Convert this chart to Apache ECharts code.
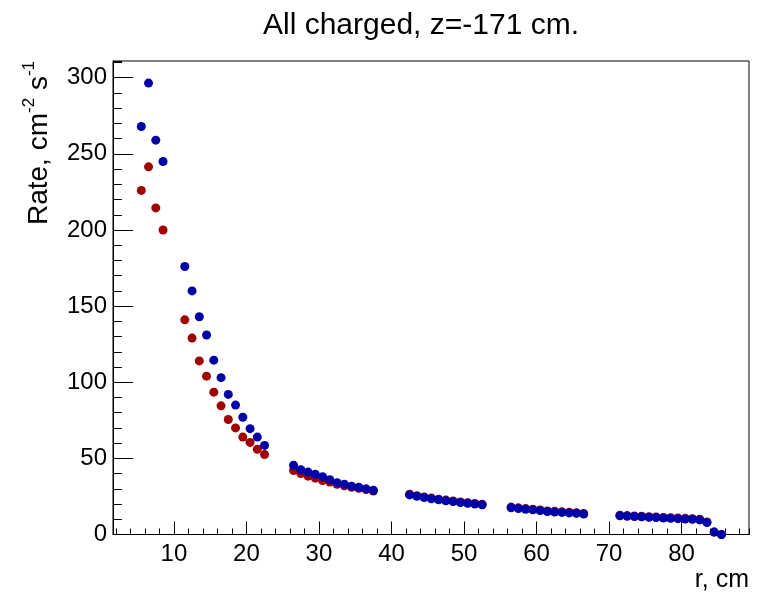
<!DOCTYPE html>
<html><head><meta charset="utf-8">
<script src="https://cdn.jsdelivr.net/npm/echarts@6/dist/echarts.min.js"></script>
<style>html,body{margin:0;padding:0;background:#fff}#c{width:757px;height:596px}</style>
</head><body><div id="c"></div>
<script>
// ---- data ----
const rValues = [5.5, 6.5, 7.5, 8.5,
  11.5, 12.5, 13.5, 14.5, 15.5, 16.5, 17.5, 18.5, 19.5, 20.5, 21.5, 22.5,
  26.5, 27.5, 28.5, 29.5, 30.5, 31.5, 32.5, 33.5, 34.5, 35.5, 36.5, 37.5,
  42.5, 43.5, 44.5, 45.5, 46.5, 47.5, 48.5, 49.5, 50.5, 51.5, 52.5,
  56.5, 57.5, 58.5, 59.5, 60.5, 61.5, 62.5, 63.5, 64.5, 65.5, 66.5,
  71.5, 72.5, 73.5, 74.5, 75.5, 76.5, 77.5, 78.5, 79.5, 80.5, 81.5, 82.5, 83.5, 84.5, 85.5];
const rateBlue = [268, 296.5, 259, 245,
  176, 160, 143, 131, 114.5, 103, 92, 85, 77, 69.5, 64, 58.5,
  45.5, 42.5, 41, 39.5, 38, 36, 34, 33, 31.7, 31, 30, 29,
  26, 25.1, 24.3, 23.5, 22.8, 22.2, 21.6, 21, 20.5, 20, 19.5,
  17.6, 17.1, 16.6, 16.2, 15.7, 15.1, 14.8, 14.5, 14.2, 13.9, 13.4,
  12.3, 12, 11.8, 11.6, 11.3, 11.1, 10.8, 10.6, 10.4, 10.2, 10, 9.6, 7.8, 1.6, 0];
const rateRed = [226, 241.5, 214.5, 200,
  141, 129, 114, 104, 93.5, 84.5, 75.5, 70, 64, 60.5, 56, 52.5,
  42, 40, 38.3, 37, 35.5, 34.5, 33, 32, 31, 30.3, 29.5, 28.6,
  26.4, 25.5, 24.7, 23.9, 23.2, 22.6, 22, 21.4, 20.9, 20.4, 19.9,
  18, 17.5, 17, 16.6, 16.1, 15.5, 15.2, 14.9, 14.6, 14.3, 13.8,
  12.7, 12.4, 12.2, 12, 11.7, 11.5, 11.2, 11, 10.8, 10.6, 10.4, 10, 8.2, 1.6, 0];
const xTickLabels = [10, 20, 30, 40, 50, 60, 70, 80];
const yTickLabels = [0, 50, 100, 150, 200, 250, 300];

const FONT = "'Liberation Sans', Arial, Helvetica, sans-serif";
const X_MIN = 1.6, X_MAX = 89.3, Y_MIN = 0, Y_MAX = 311;
const gridPos = {left: 113, right: 8, top: 61, bottom: 61.5};

const chart = echarts.init(document.getElementById('c'), null, {renderer: 'canvas'});
chart.setOption({
  animation: false,
  backgroundColor: '#fff',
  title: {
    text: 'All charged, z=-171 cm.',
    left: 416, top: 6, textAlign: 'center',
    textStyle: {fontFamily: FONT, fontSize: 30, fontWeight: 'normal', color: '#000'}
  },
  grid: [
    Object.assign({show: true, borderColor: '#000', borderWidth: 1, backgroundColor: 'transparent'}, gridPos),
    Object.assign({show: false}, gridPos)
  ],
  xAxis: [
    {
      type: 'value', gridIndex: 0, min: X_MIN, max: X_MAX, minInterval: 10, maxInterval: 10,
      axisLine: {show: true, lineStyle: {color: '#000', width: 1}},
      axisTick: {show: true, inside: true, length: 13, lineStyle: {color: '#000', width: 1}},
      splitLine: {show: false},
      axisLabel: {
        color: '#000', fontFamily: FONT, fontSize: 24, margin: 8,
        showMinLabel: false, showMaxLabel: false,
        formatter: v => xTickLabels.indexOf(Math.round(v * 1000) / 1000) >= 0 ? String(v) : ''
      },
      name: 'r, cm', nameLocation: 'end', nameGap: 0,
      nameTextStyle: {color: '#000', fontFamily: FONT, fontSize: 25, align: 'right', verticalAlign: 'top', padding: [33, 0, 0, 0]}
    },
    {
      type: 'value', gridIndex: 1, min: X_MIN, max: X_MAX, minInterval: 2, maxInterval: 2,
      axisLine: {show: false},
      axisTick: {show: true, inside: true, length: 6, lineStyle: {color: '#000', width: 1}},
      splitLine: {show: false}, axisLabel: {show: false}
    }
  ],
  yAxis: [
    {
      type: 'value', gridIndex: 0, min: Y_MIN, max: Y_MAX, interval: 50,
      axisLine: {show: true, lineStyle: {color: '#000', width: 1}},
      axisTick: {show: true, inside: true, length: 20, lineStyle: {color: '#000', width: 1}},
      splitLine: {show: false},
      axisLabel: {
        color: '#000', fontFamily: FONT, fontSize: 24, margin: 6,
        showMaxLabel: false,
        formatter: v => yTickLabels.indexOf(v) >= 0 ? String(v) : ''
      },
      name: '{a|Rate, cm}{s|-2}{a| s}{s|-1}',
      nameLocation: 'end', nameRotate: 90, nameGap: 0,
      nameTextStyle: {
        align: 'right', verticalAlign: 'bottom', padding: [0, 0, 60, 0],
        rich: {
          a: {fontFamily: FONT, fontSize: 28, color: '#000', verticalAlign: 'bottom', lineHeight: 32},
          s: {fontFamily: FONT, fontSize: 17, color: '#000', verticalAlign: 'top', lineHeight: 32}
        }
      }
    },
    {
      type: 'value', gridIndex: 1, min: Y_MIN, max: Y_MAX, interval: 10,
      axisLine: {show: false},
      axisTick: {show: true, inside: true, length: 9, lineStyle: {color: '#000', width: 1}},
      splitLine: {show: false}, axisLabel: {show: false}
    }
  ],
  series: [
    {
      type: 'scatter', name: 'red', xAxisIndex: 0, yAxisIndex: 0, clip: false,
      symbol: 'circle', symbolSize: 9, itemStyle: {color: '#a00000', opacity: 1},
      data: rValues.map((r, i) => [r, rateRed[i]])
    },
    {
      type: 'scatter', name: 'blue', xAxisIndex: 0, yAxisIndex: 0, clip: false,
      symbol: 'circle', symbolSize: 9, itemStyle: {color: '#0000a8', opacity: 1},
      data: rValues.map((r, i) => [r, rateBlue[i]])
    }
  ]
});
</script></body></html>
